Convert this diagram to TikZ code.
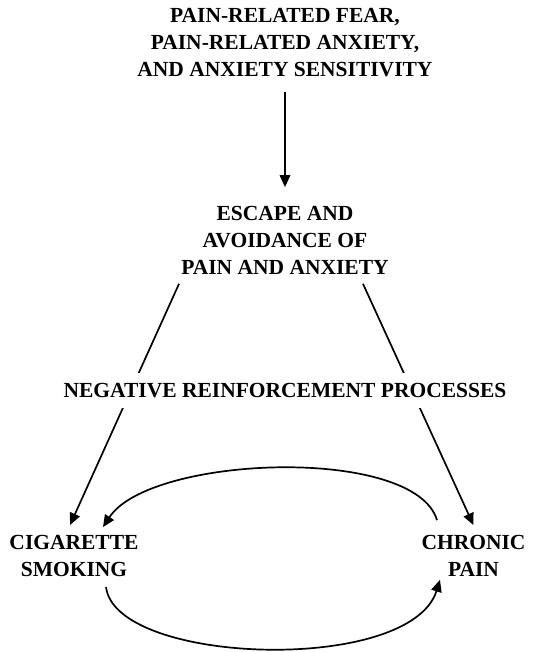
\documentclass[tikz,border=0pt]{standalone}
\usepackage{fontspec}
\setmainfont{Liberation Serif}
\usepackage{tikz}
\usetikzlibrary{positioning,arrows.meta,calc}

\begin{document}
\begin{tikzpicture}[
    x=1pt, y=1pt,
    >={Triangle[length=12pt,width=10.5pt]},
    font=\fontsize{21.5}{27}\selectfont\bfseries,
    lbl/.style={
        inner sep=0pt,
        align=center
    },
    arr/.style={->, line width=1.7pt}
]
\useasboundingbox (0,0) rectangle (549,-652);

% top and middle
\node[lbl] (fear) at (285,-42.5)
{PAIN-RELATED FEAR,\\
PAIN-RELATED ANXIETY,\\
AND ANXIETY SENSITIVITY};

\node[lbl] (escape) at (285,-240.5)
{ESCAPE AND\\
AVOIDANCE OF\\
PAIN AND ANXIETY};

% bottom row
\node[lbl] (smoke) at (74,-556)
{CIGARETTE\\
SMOKING};

\node[lbl] (chronic) at (473.5,-556)
{CHRONIC\\
PAIN};

\draw[arr, shorten <=15pt, shorten >=19pt] (fear) -- (escape);
\draw[arr] ($(escape.south)+(-106,-9)$) -- ($(smoke.north)+(-4,10)$);
\draw[arr] ($(escape.south)+(78,-9)$) -- ($(chronic.north)+(0,10)$);

% label across the two lines
\node[lbl, fill=white, inner ysep=10.5pt] (negrein) at (285,-390.5)
{NEGATIVE REINFORCEMENT PROCESSES};

% loop between smoking and pain
\draw[arr] ($(chronic.north)+(-36.5,15)$) .. controls +(-22,75) and +(47,72) .. ($(smoke.north)+(29,8)$);
\draw[arr] ($(smoke.south)+(32,-10)$) .. controls +(9,-78) and +(-30,-95) .. ($(chronic.south)+(-33.5,-3)$);

\end{tikzpicture}
\end{document}
